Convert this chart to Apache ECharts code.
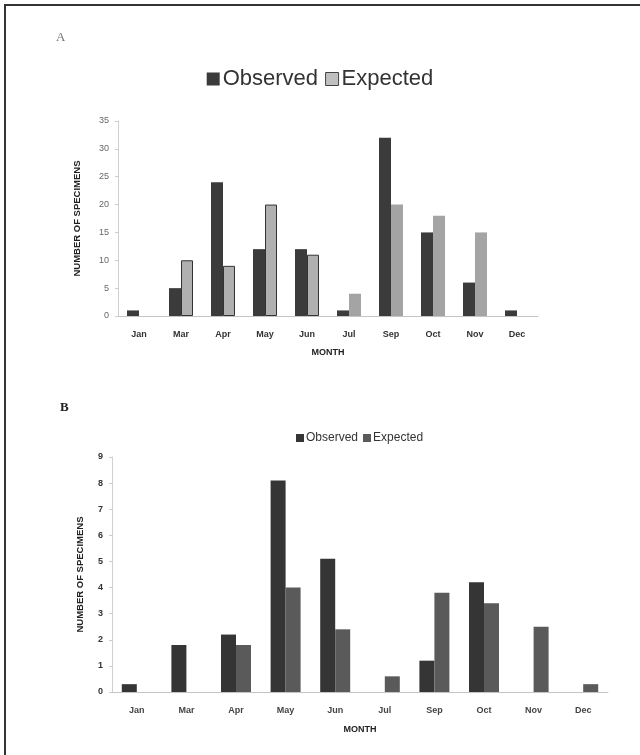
<!DOCTYPE html>
<html>
<head>
<meta charset="utf-8">
<script src="https://cdn.jsdelivr.net/npm/echarts@6/dist/echarts.min.js"></script>
<style>html,body{margin:0;padding:0;background:#fff}#c{width:640px;height:755px}</style>
</head>
<body>
<div id="c"></div>
<script>
const months = ['Jan','Mar','Apr','May','Jun','Jul','Sep','Oct','Nov','Dec'];
const observedA = [1, 5, 24, 12, 12, 1, 32, 15, 6, 1];
const expectedA = [0, 10, 9, 20, 11, 4, 20, 18, 15, 0];
const observedB = [0.3, 1.8, 2.2, 8.1, 5.1, 0, 1.2, 4.2, 0, 0];
const expectedB = [0, 0, 1.8, 4.0, 2.4, 0.6, 3.8, 3.4, 2.5, 0.3];
const yTicksA = { min: 0, max: 35, interval: 5 };
const yTicksB = { min: 0, max: 9, interval: 1 };

const FONT = 'Liberation Sans, Arial, sans-serif';
const chart = echarts.init(document.getElementById('c'), null, { renderer: 'canvas' });

function xAxis(gridIndex, labelColor) {
  return {
    type: 'category', gridIndex, data: months,
    name: 'MONTH', nameLocation: 'middle', nameGap: gridIndex === 0 ? 32 : 33,
    nameTextStyle: { fontFamily: FONT, fontWeight: 'bold', fontSize: 9, color: '#222' },
    axisLine: { lineStyle: { color: '#c4c4c4', width: 1 } },
    axisTick: { show: false },
    axisLabel: { fontFamily: FONT, fontSize: 9, fontWeight: 'bold', color: labelColor, margin: 14 }
  };
}
function yAxis(gridIndex, t) {
  return {
    type: 'value', gridIndex, min: t.min, max: t.max, interval: t.interval,
    name: 'NUMBER OF SPECIMENS', nameLocation: 'middle', nameRotate: 90,
    nameGap: gridIndex === 0 ? 36 : 27,
    nameTextStyle: { fontFamily: FONT, fontWeight: 'bold', fontSize: 9.5, color: '#222' },
    axisLine: { show: true, lineStyle: { color: '#d0d0d0' } },
    axisTick: { show: true, length: 3, lineStyle: { color: '#ccc' } },
    splitLine: { show: false },
    axisLabel: { fontFamily: FONT, fontSize: 9, color: gridIndex === 0 ? '#666' : '#333', fontWeight: gridIndex === 0 ? 'normal' : 'bold', margin: 9 }
  };
}

chart.setOption({
  animation: false,
  backgroundColor: '#fff',
  grid: [
    { left: 118, top: 121, width: 420, height: 195 },
    { left: 112, top: 457, width: 496, height: 235 }
  ],
  xAxis: [xAxis(0, '#333'), xAxis(1, '#444')],
  yAxis: [yAxis(0, yTicksA), yAxis(1, yTicksB)],
  legend: [
    {
      left: 'center', top: 63, icon: 'rect', itemWidth: 13, itemHeight: 13, itemGap: 7,
      textStyle: { fontFamily: FONT, fontSize: 22, color: '#333', padding: [0, 0, 0, -2] },
      data: [
        { name: 'Observed', itemStyle: { color: '#3b3b3b', borderWidth: 0 } },
        { name: 'Expected', itemStyle: { color: '#c0c0c0', borderColor: '#444', borderWidth: 1 } }
      ]
    },
    {
      left: 291, top: 427, icon: 'rect', itemWidth: 8, itemHeight: 8, itemGap: 5,
      textStyle: { fontFamily: FONT, fontSize: 12, color: '#333', padding: [0, 0, 0, -3] },
      data: [
        { name: 'Observed', itemStyle: { color: '#353535' } },
        { name: 'Expected', itemStyle: { color: '#5a5a5a' } }
      ]
    }
  ],
  series: [
    { name: 'Observed', type: 'bar', xAxisIndex: 0, yAxisIndex: 0, barWidth: 12, barGap: '0%',
      itemStyle: { color: '#3b3b3b' }, data: observedA },
    { name: 'Expected', type: 'bar', xAxisIndex: 0, yAxisIndex: 0, barWidth: 12, barGap: '0%',
      itemStyle: { color: '#a4a4a4' },
      data: expectedA.map((v, i) => (i >= 1 && i <= 4)
        ? { value: v, itemStyle: { borderColor: '#333', borderWidth: 1, color: '#b0b0b0' } }
        : v) },
    { name: 'Observed', type: 'bar', xAxisIndex: 1, yAxisIndex: 1, barWidth: 15, barGap: '0%',
      itemStyle: { color: '#353535' }, data: observedB },
    { name: 'Expected', type: 'bar', xAxisIndex: 1, yAxisIndex: 1, barWidth: 15, barGap: '0%',
      itemStyle: { color: '#5a5a5a' }, data: expectedB }
  ],
  graphic: [
    { type: 'rect', shape: { x: 4, y: 4, width: 636, height: 2 }, style: { fill: '#333' } },
    { type: 'rect', shape: { x: 4, y: 4, width: 2, height: 751 }, style: { fill: '#333' } },
    { type: 'text', left: 56, top: 31, style: { text: 'A', fontFamily: 'Liberation Serif, serif', fontSize: 13, fill: '#777' } },
    { type: 'text', left: 60, top: 401, style: { text: 'B', fontFamily: 'Liberation Serif, serif', fontSize: 13, fontWeight: 'bold', fill: '#222' } }
  ]
});
</script>
</body>
</html>
